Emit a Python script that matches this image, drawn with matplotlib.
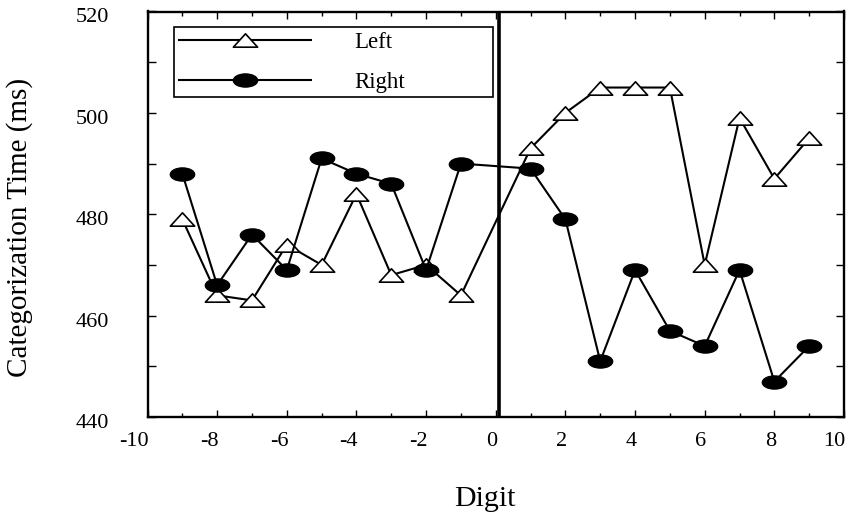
import numpy as np
import matplotlib
matplotlib.use("Agg")
import matplotlib.pyplot as plt
from matplotlib.path import Path
from matplotlib.ticker import MultipleLocator
from matplotlib.transforms import ScaledTranslation

plt.rcParams['font.family'] = ['Liberation Serif', 'DejaVu Serif']
plt.rcParams['axes.unicode_minus'] = False

# digit positions (no point at 0)
digits = [-9, -8, -7, -6, -5, -4, -3, -2, -1, 1, 2, 3, 4, 5, 6, 7, 8, 9]
left = [479, 464, 463, 474, 470, 484, 468, 470, 464,
        493, 500, 505, 505, 505, 470, 499, 487, 495]
right = [488, 466, 476, 469, 491, 488, 486, 469, 490,
         489, 479, 451, 469, 457, 454, 469, 447, 454]

divider = 0.1

# flattened markers (wide ellipse, wide triangle)
circ = Path.unit_circle()
ellipse = Path(circ.vertices * [1.0, 0.54], circ.codes)
tri = Path([(-1, -0.55), (1, -0.55), (0, 0.55), (-1, -0.55)],
           [Path.MOVETO, Path.LINETO, Path.LINETO, Path.CLOSEPOLY])

fig = plt.figure(figsize=(8.49, 5.16), dpi=100)
ax = fig.add_axes([147.5 / 849, 1 - 417 / 516, 696.5 / 849, 405.5 / 516])

ax.plot(digits, left, color='black', lw=1.5, marker=tri, ms=17.5,
        mfc='white', mec='black', mew=1.2, label='Left')
ax.plot(digits, right, color='black', lw=1.5, marker=ellipse, ms=17.5,
        mfc='black', mec='black', label='Right')

ax.axvline(divider, color='black', lw=2.6)

ax.set_xlim(-10, 10)
ax.set_ylim(440, 520)
ax.xaxis.set_major_locator(MultipleLocator(2))
ax.xaxis.set_minor_locator(MultipleLocator(1))
ax.yaxis.set_major_locator(MultipleLocator(20))
ax.yaxis.set_minor_locator(MultipleLocator(10))

ax.tick_params(axis='both', which='both', direction='in', top=True, right=True,
               width=1.0, labelsize=16)
ax.tick_params(axis='x', which='major', length=5, pad=11)
ax.tick_params(axis='x', which='minor', length=3)
ax.tick_params(axis='y', which='both', length=6, pad=28)

for s in ax.spines.values():
    s.set_linewidth(1.7)

for lab in ax.get_xticklabels():
    lab.set_horizontalalignment('right')
    lab.set_transform(lab.get_transform() + ScaledTranslation(0.015, 0, fig.dpi_scale_trans))
for lab in ax.get_yticklabels():
    lab.set_transform(lab.get_transform() + ScaledTranslation(0, -0.04, fig.dpi_scale_trans))

ax.set_xlabel('Digit', fontsize=21.5)
ax.xaxis.set_label_coords(0.4846, -0.17)
ax.set_ylabel('Categorization Time (ms)', fontsize=21)
ax.yaxis.set_label_coords(-0.164, 0.468)

leg = ax.legend(loc='upper left', bbox_to_anchor=(0.038, 0.7825, 0.4577, 0.179),
                mode='expand', borderaxespad=0, fontsize=16.5, numpoints=1,
                handlelength=5.8, handletextpad=1.85, borderpad=0.2,
                labelspacing=0.82, fancybox=False, framealpha=1,
                edgecolor='black')
leg.get_frame().set_linewidth(1.2)

fig.savefig('out.png', dpi=100)
